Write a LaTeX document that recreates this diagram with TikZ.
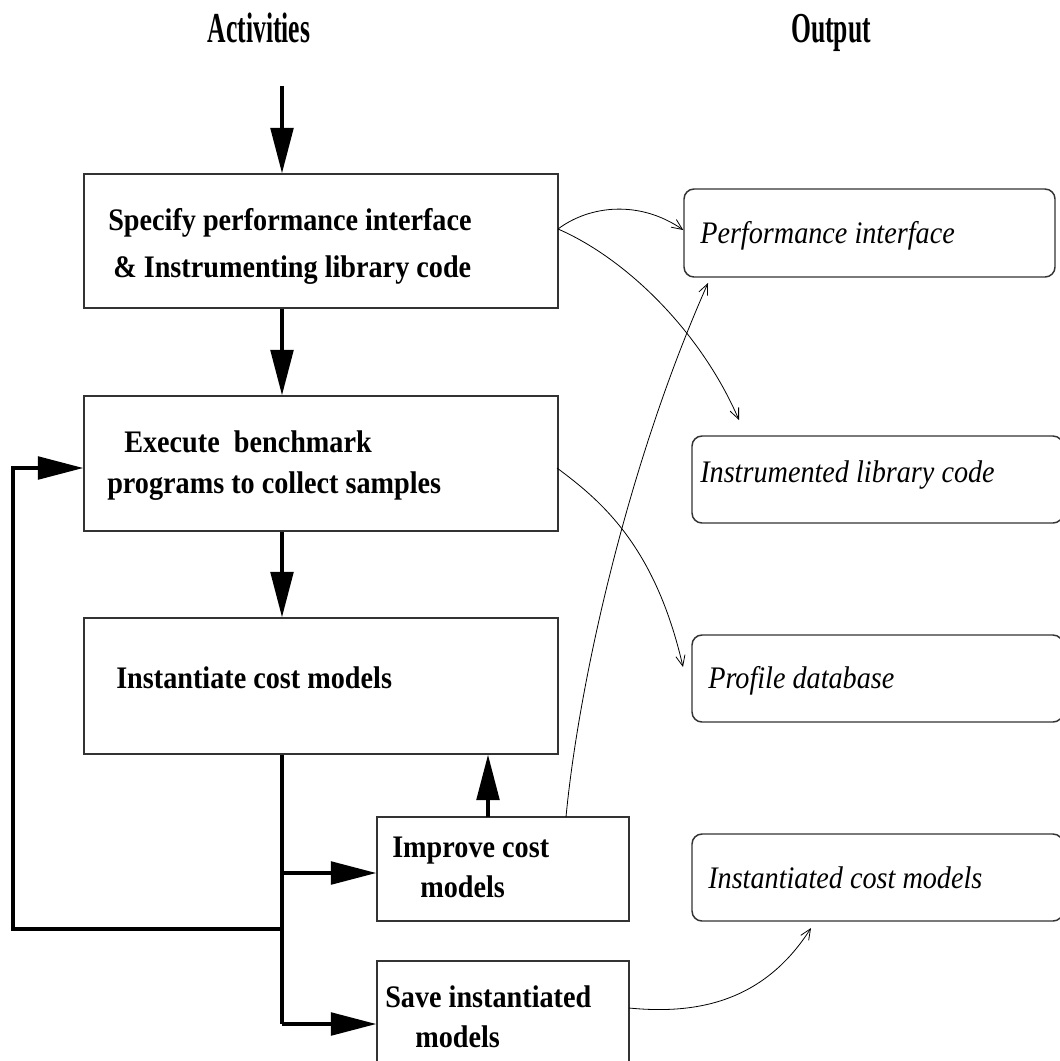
\documentclass[tikz,border=0pt]{standalone}
\usepackage{fontspec}
\setmainfont{Liberation Serif}
\newfontfamily\bodyfont[FakeStretch=0.9]{Liberation Serif}
\newfontfamily\headfont[FakeStretch=0.6]{Liberation Serif}
\usetikzlibrary{arrows.meta,fit,calc}

\tikzset{
  actbox/.style={draw=black!80, line width=1.1pt, inner sep=0pt, fit={#1}},
  outbox/.style={draw=black!80, line width=1.1pt, inner sep=0pt, rounded corners=7.5pt, fit={#1}},
  acttext/.style={anchor=base west, inner sep=0pt, font=\fontsize{23.5}{27}\bodyfont\bfseries},
  outtext/.style={anchor=base west, inner sep=0pt, font=\fontsize{23.5}{27}\bodyfont\itshape},
  headtext/.style={anchor=base, inner sep=0pt, font=\fontsize{32}{36}\headfont\bfseries},
  flow/.style={line width=2.5pt, line join=miter, -{Triangle[length=34pt,width=17pt]}},
  trunk/.style={line width=2.5pt, line join=miter},
  feed/.style={line width=0.6pt, -{Straight Barb[length=8pt,width=7pt]}}
}

\begin{document}
\begin{tikzpicture}[x=0.75pt,y=-0.75pt]
\useasboundingbox (0,0) rectangle (1060,1061);
\clip (0,0) rectangle (1060,1061);

% column headings
\node[headtext] (hact) at (259,42) {Activities};
\node[headtext] (hout) at (831,42) {Output};

% activity boxes
\node[actbox={(84,174) (558,308)}] (spec) {};
\node[actbox={(84,396) (558,531)}] (exec) {};
\node[actbox={(84,618) (558,754)}] (inst) {};
\node[actbox={(377,817) (629,921)}] (impr) {};
\node[actbox={(377,961) (629,1064)}] (save) {};

\node[acttext] (t1a) at (108,230) {Specify performance interface};
\node[acttext] (t1b) at (113,277) {\& Instrumenting library code};
\node[acttext] (t2a) at (124,452) {Execute\ \ benchmark};
\node[acttext] (t2b) at (107,493) {programs to collect samples};
\node[acttext] (t3) at (116,688) {Instantiate cost models};
\node[acttext] (t4a) at (392,857) {Improve cost};
\node[acttext] (t4b) at (420,897) {models};
\node[acttext] (t5a) at (385,1007) {Save instantiated};
\node[acttext] (t5b) at (415,1047) {models};

% output boxes
\node[outbox={(684,189) (1055,277)}] (operf) {};
\node[outbox={(692,436) (1063,523)}] (oinst) {};
\node[outbox={(692,635) (1063,722)}] (oprof) {};
\node[outbox={(692,834) (1063,921)}] (ocost) {};

\node[outtext] (o1) at (700,243) {Performance interface};
\node[outtext] (o2) at (700,482) {Instrumented library code};
\node[outtext] (o3) at (708,688) {Profile database};
\node[outtext] (o4) at (708,888) {Instantiated cost models};

% control flow
\coordinate (entry) at (282,86);
\coordinate (jimp) at (282,873);
\coordinate (jloop) at (282,929);
\coordinate (jsave) at (282,1024);
\coordinate (lcorner) at (13,929);
\coordinate (ltop) at (13,468);
\coordinate (up) at (488,817);

\draw[flow] (entry) -- (entry |- spec.north);
\draw[flow] (entry |- spec.south) -- (entry |- exec.north);
\draw[flow] (entry |- exec.south) -- (entry |- inst.north);
\draw[trunk] (entry |- inst.south) -- (jsave);
\draw[flow] (jimp) -- (impr.west |- jimp);
\draw[flow] (jsave) -- (save.west |- jsave);
\draw[flow] (jloop) -- (lcorner) -- (ltop) -- (exec.west |- ltop);
\draw[flow] (up) -- (up |- inst.south);

% products of each activity
\coordinate (s1) at (558,229);
\coordinate (s2) at (557,468);
\coordinate (s3) at (566,817);
\coordinate (s4) at (629,1008);
\draw[feed] (s1) .. controls (590,205) and (640,200) .. (operf.west |- 0,230);
\draw[feed] (s1) .. controls (625,258) and (700,330) .. (739,420);
\draw[feed] (s2) .. controls (600,500) and (655,545) .. (683,667);
\draw[feed] (s3) .. controls (578,690) and (625,470) .. (708,283);
\draw[feed] (s4) .. controls (700,1015) and (765,1000) .. (811,928);
\end{tikzpicture}
\end{document}
